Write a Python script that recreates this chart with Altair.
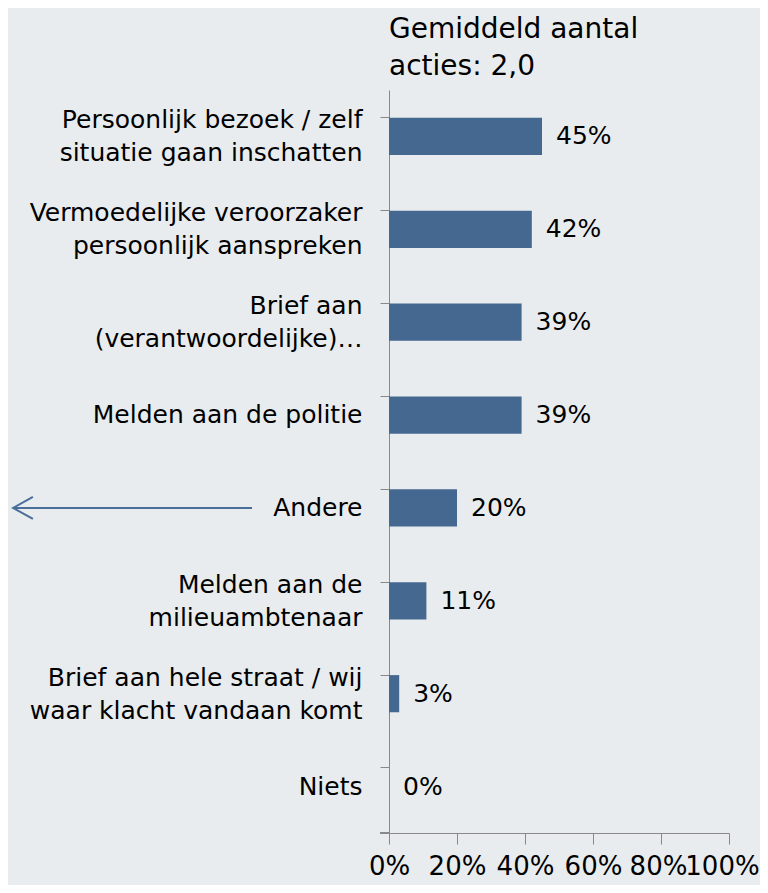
import altair as alt
import pandas as pd

categories = [
    "Persoonlijk bezoek / zelf|situatie gaan inschatten",
    "Vermoedelijke veroorzaker|persoonlijk aanspreken",
    "Brief aan|(verantwoordelijke)…",
    "Melden aan de politie",
    "Andere",
    "Melden aan de|milieuambtenaar",
    "Brief aan hele straat / wij|waar klacht vandaan komt",
    "Niets",
]
values = [45, 42, 39, 39, 20, 11, 3, 0]
x_ticks = [0, 0.2, 0.4, 0.6, 0.8, 1.0]
title_lines = ["Gemiddeld aantal", "acties: 2,0"]
arrow_category = ["Andere"]

FONT = "DejaVu Sans"
BAR = "#44688f"
BG = "#e9ecee"

df = pd.DataFrame({"cat": categories, "share": [v / 100 for v in values],
                   "label": [f"{v}%" for v in values]})
arrow_df = pd.DataFrame({"cat": arrow_category})

y_enc = alt.Y("cat:N", sort=categories, title=None,
              scale=alt.Scale(paddingInner=0.6, paddingOuter=0.3),
              axis=alt.Axis(labelExpr="split(datum.label, '|')", labelFont=FONT,
                            labelFontSize=25, labelColor="black", labelLineHeight=33,
                            labelOffset={"expr": "indexof(datum.label, '|') >= 0 ? -16 : 0"},
                            labelPadding=18, labelLimit=400, tickSize=9, bandPosition=0,
                            tickColor="#888", domainColor="#888", labelAlign="right"))

bars = alt.Chart(df).mark_bar(color=BAR).encode(
    x=alt.X("share:Q", scale=alt.Scale(domain=[0, 1]), title=None,
            axis=alt.Axis(values=x_ticks, format=".0%", labelFont=FONT, labelFontSize=26,
                          labelColor="black", tickSize=11, labelPadding=9, grid=False,
                          tickColor="#888", domainColor="#888", labelOverlap=False,
                          labelOffset={"expr": "datum.value >= 1 ? -7 : (datum.value >= 0.8 ? -3 : 0)"},
                          labelFlush=False)),
    y=y_enc,
)

texts = alt.Chart(df).mark_text(align="left", baseline="middle", dx=14, font=FONT,
                                fontSize=25, color="black").encode(
    x="share:Q", y=alt.Y("cat:N", sort=categories), text="label:N")

bottom_tick = alt.Chart(df).mark_rule(color="#888").encode(
    x=alt.value(-9), x2=alt.value(0), y=alt.value(743))

arrow_line = alt.Chart(arrow_df).mark_rule(color="#4a6e9a", strokeWidth=2).encode(
    x=alt.value(-375), x2=alt.value(-137), y=alt.Y("cat:N", sort=categories))

arrow_head = alt.Chart(arrow_df).mark_point(
    shape="M0.9,-1L-0.9,0L0.9,1", filled=False, color="#4a6e9a", strokeWidth=2,
    size=484, opacity=1).encode(
    x=alt.value(-366), y=alt.Y("cat:N", sort=categories))

chart = alt.layer(bars, texts, bottom_tick, arrow_line, arrow_head).properties(
    width=340, height=743,
    title=alt.TitleParams(title_lines, anchor="start", frame="group", font=FONT,
                          fontSize=28, fontWeight="normal", color="black",
                          lineHeight=37, offset=9),
    autosize=alt.AutoSizeParams(type="none"),
    padding={"left": 381, "top": 82, "right": 31, "bottom": 52},
    background=BG,
).configure_view(stroke=None)

chart.save("out.html", embed_options={"renderer": "svg", "actions": False})
